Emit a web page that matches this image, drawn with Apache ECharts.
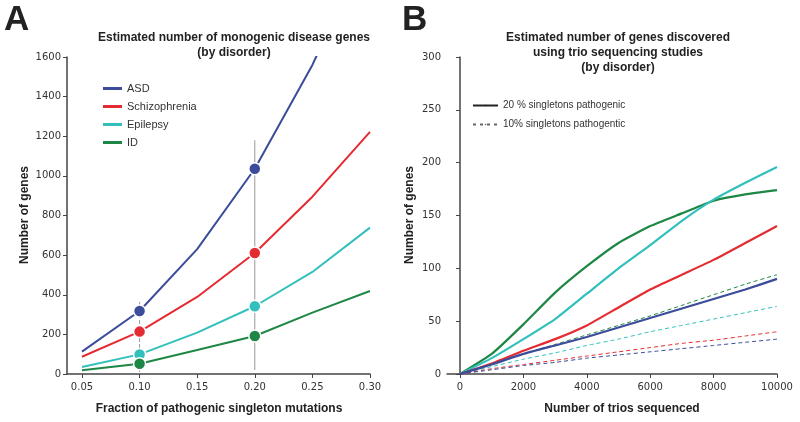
<!DOCTYPE html>
<html><head><meta charset="utf-8">
<script src="https://cdn.jsdelivr.net/npm/echarts@6/dist/echarts.min.js"></script>
<style>html,body{margin:0;padding:0;background:#fff}#c{width:800px;height:422px}</style>
</head><body><div id="c"></div>
<script>
// Panel A data
var fractions = [0.05, 0.10, 0.15, 0.20, 0.25, 0.30];
var fractionTicks = [0.05, 0.10, 0.15, 0.20, 0.25, 0.30];
var asdA = [113, 318, 630, 1036, 1560, 2190];
var schA = [87, 214, 389, 611, 895, 1222];
var epiA = [35, 99, 209, 342, 515, 739];
var idA  = [19, 52, 121, 192, 310, 419];
var highlightFractions = [0.10, 0.20];
var errorBar010 = [10, 368];
var errorBar020 = [20, 1180];
// Panel B data
var trios = [0, 1000, 2000, 3000, 4000, 5000, 6000, 7000, 8000, 9000, 10000];
var trioTicks = [0, 2000, 4000, 6000, 8000, 10000];
var idB20  = [0, 19, 47, 77, 102, 124, 140, 152, 164, 170, 174];
var epiB20 = [0, 15, 33, 52, 76, 100, 122, 145, 165, 181, 196];
var schB20 = [0, 10, 22, 33, 46, 63, 80, 94, 108, 124, 140];
var asdB20 = [0, 9, 19, 27, 35, 44, 53, 62, 71, 80, 90];
var idB10  = [0, 10, 19, 28, 37, 46, 55, 65, 75, 85, 94];
var epiB10 = [0, 7, 14, 20, 27, 33, 40, 46, 52, 58, 64];
var schB10 = [0, 5, 9, 13, 17, 21, 25, 29, 32, 36, 40];
var asdB10 = [0, 4, 8, 11, 15, 18, 21, 24, 27, 30, 33];

var C = {asd: '#3b4c9b', sch: '#e52b32', epi: '#33c0bc', id: '#1e8745'};
var sans = 'Liberation Sans';
var tickFont = 'DejaVu Sans';

function pairs(xs, ys) { return xs.map(function (x, i) { return [x, ys[i]]; }); }
function dots(xs, ys) {
  return xs.map(function (x, i) { return [x, ys[i]]; }).filter(function (p) {
    return highlightFractions.some(function (h) { return Math.abs(h - p[0]) < 1e-9; });
  });
}
function plain(v) { return String(v); }

var axisBase = {
  axisLine: {show: true, lineStyle: {color: '#444', width: 1.5}},
  axisTick: {show: true, length: 4, lineStyle: {color: '#444', width: 1}},
  axisLabel: {color: '#333', fontSize: 10, fontFamily: tickFont},
  splitLine: {show: false}
};
function ext(o) {
  var r = {axisLine: axisBase.axisLine, axisTick: Object.assign({}, axisBase.axisTick),
    axisLabel: Object.assign({}, axisBase.axisLabel), splitLine: axisBase.splitLine};
  for (var k in o) {
    if (o[k] && typeof o[k] === 'object' && !Array.isArray(o[k]) && r[k]) Object.assign(r[k], o[k]);
    else r[k] = o[k];
  }
  return r;
}

var series = [];
function lineA(name, ys, color) {
  series.push({name: name, type: 'line', xAxisIndex: 0, yAxisIndex: 0, data: pairs(fractions, ys),
    symbol: 'none', lineStyle: {color: color, width: 2}, itemStyle: {color: color}, clip: true, z: 3});
}
lineA('ASD', asdA, C.asd);
lineA('Schizophrenia', schA, C.sch);
lineA('Epilepsy', epiA, C.epi);
lineA('ID', idA, C.id);
series.push({name: 'err1', type: 'line', xAxisIndex: 0, yAxisIndex: 0, symbol: 'none',
  data: [[highlightFractions[0], errorBar010[0]], [highlightFractions[0], errorBar010[1]]],
  lineStyle: {color: '#999', width: 1, type: [4, 2]}, z: 2, silent: true});
series.push({name: 'err2', type: 'line', xAxisIndex: 0, yAxisIndex: 0, symbol: 'none',
  data: [[highlightFractions[1], errorBar020[0]], [highlightFractions[1], errorBar020[1]]],
  lineStyle: {color: '#999', width: 1}, z: 2, silent: true});
[[asdA, C.asd], [schA, C.sch], [epiA, C.epi], [idA, C.id]].forEach(function (d) {
  series.push({type: 'scatter', xAxisIndex: 0, yAxisIndex: 0, data: dots(fractions, d[0]),
    symbolSize: 12, itemStyle: {color: d[1], opacity: 1, borderColor: '#fff', borderWidth: 1.5}, z: 5});
});
function lineB(ys, color, dashed) {
  series.push({type: 'line', xAxisIndex: 1, yAxisIndex: 1, data: pairs(trios, ys), symbol: 'none',
    smooth: 0.15,
    lineStyle: dashed ? {color: color, width: 1, type: [4, 3]} : {color: color, width: 2.2}, z: dashed ? 2 : 3});
}
lineB(idB10, C.id, true); lineB(epiB10, C.epi, true); lineB(schB10, C.sch, true); lineB(asdB10, C.asd, true);
lineB(idB20, C.id, false); lineB(epiB20, C.epi, false); lineB(schB20, C.sch, false); lineB(asdB20, C.asd, false);
series.push({name: '20 % singletons pathogenic', type: 'line', xAxisIndex: 1, yAxisIndex: 1, data: [],
  symbol: 'none', lineStyle: {color: '#222', width: 1.5}, itemStyle: {color: '#222'}});
series.push({name: '10% singletons pathogentic', type: 'line', xAxisIndex: 1, yAxisIndex: 1, data: [],
  symbol: 'none', lineStyle: {color: '#666', width: 1.5, type: [3, 4]}, itemStyle: {color: '#666'}});

var option = {
  animation: false,
  backgroundColor: '#fff',
  grid: [
    {left: 67, top: 57, width: 303, height: 317},
    {left: 447, top: 57, width: 330, height: 317}
  ],
  xAxis: [
    ext({type: 'value', gridIndex: 0, min: 0.037, max: 0.30,
      axisTick: {customValues: fractionTicks}, axisLabel: {customValues: fractionTicks, margin: 8,
        formatter: function (v) { return v.toFixed(2); }}}),
    ext({type: 'value', gridIndex: 1, min: -410, max: 10000,
      axisTick: {customValues: trioTicks}, axisLabel: {customValues: trioTicks, margin: 8, formatter: plain}})
  ],
  yAxis: [
    ext({type: 'value', gridIndex: 0, min: 0, max: 1600, interval: 200, axisLabel: {margin: 6, formatter: plain}}),
    ext({type: 'value', gridIndex: 1, min: 0, max: 300, interval: 50, axisLabel: {margin: 6, formatter: plain}})
  ],
  legend: [
    {data: ['ASD', 'Schizophrenia', 'Epilepsy', 'ID'], orient: 'vertical', left: 98, top: 77,
      itemWidth: 19, itemHeight: 3, icon: 'rect', itemGap: 5,
      textStyle: {fontFamily: sans, fontSize: 11, color: '#333', lineHeight: 13}},
    {data: ['20 % singletons pathogenic', '10% singletons pathogentic'], orient: 'vertical', left: 467, top: 94,
      itemWidth: 25, itemHeight: 2, itemGap: 6,
      textStyle: {fontFamily: sans, fontSize: 10, color: '#333', lineHeight: 13}}
  ],
  graphic: [
    {type: 'text', left: 4, top: 3, style: {text: 'A', font: 'bold 35px ' + sans, fill: '#222'}},
    {type: 'text', left: 402, top: 3, style: {text: 'B', font: 'bold 35px ' + sans, fill: '#222'}},
    {type: 'text', x: 234, y: 30, style: {text: 'Estimated number of monogenic disease genes\n(by disorder)',
      font: 'bold 12px ' + sans, fill: '#222', align: 'center', lineHeight: 15}},
    {type: 'text', x: 618, y: 30, style: {text: 'Estimated number of genes discovered\nusing trio sequencing studies\n(by disorder)',
      font: 'bold 12px ' + sans, fill: '#222', align: 'center', lineHeight: 15}},
    {type: 'text', x: 219, y: 403, style: {text: 'Fraction of pathogenic singleton mutations',
      font: 'bold 12px ' + sans, fill: '#222', align: 'center'}},
    {type: 'text', x: 622, y: 403, style: {text: 'Number of trios sequenced',
      font: 'bold 12px ' + sans, fill: '#222', align: 'center'}},
    {type: 'text', x: 19, y: 215, rotation: Math.PI / 2, style: {text: 'Number of genes',
      font: 'bold 12px ' + sans, fill: '#222', align: 'center'}},
    {type: 'text', x: 404, y: 215, rotation: Math.PI / 2, style: {text: 'Number of genes',
      font: 'bold 12px ' + sans, fill: '#222', align: 'center'}}
  ],
  series: series
};
var chart = echarts.init(document.getElementById('c'), null, {renderer: 'canvas'});
chart.setOption(option);
</script></body></html>
